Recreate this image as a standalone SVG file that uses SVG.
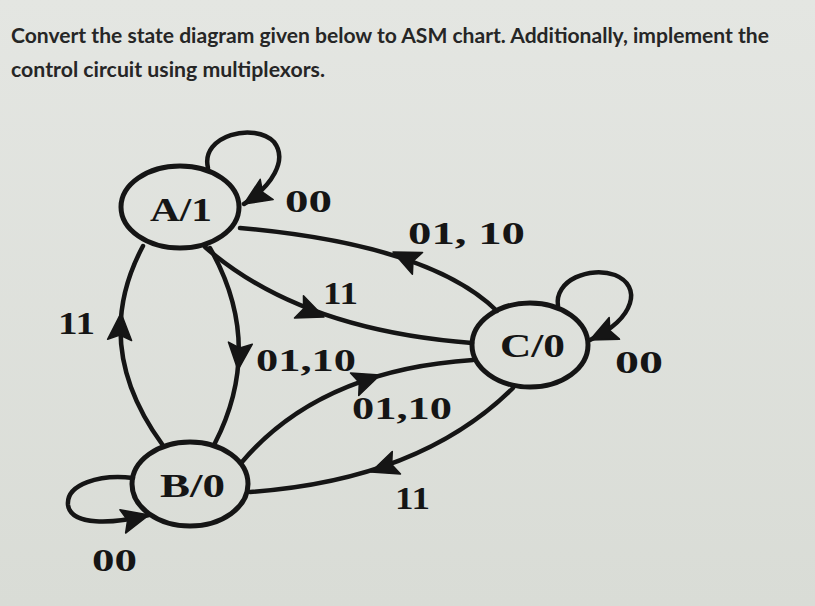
<svg xmlns="http://www.w3.org/2000/svg" xmlns:xlink="http://www.w3.org/1999/xlink" width="815" height="606" viewBox="0 0 815 606">
  <style>
    .title { font-family: Lato, "Liberation Sans", sans-serif; font-size: 20px; font-weight: bold; fill: #262626; }
    .node { fill: none; stroke: #151515; stroke-width: 5; }
    .nlabel { font-family: "Liberation Serif", "DejaVu Serif", serif; font-size: 33px; font-weight: bold; fill: #151515; }
    .elabel { font-family: "Liberation Serif", "DejaVu Serif", serif; font-size: 31px; font-weight: bold; fill: #151515; }
    .edge { fill: none; stroke: #151515; stroke-width: 4.5; stroke-linecap: round; }
    .ah { fill: #151515; stroke: #151515; stroke-width: 1.5; stroke-linejoin: round; }
  </style>
  <defs>
    <linearGradient id="bg" x1="0" y1="0" x2="0" y2="1">
      <stop offset="0" stop-color="#e4e6e2"/>
      <stop offset="1" stop-color="#d9dcd6"/>
    </linearGradient>
    <path id="ah" class="ah" d="M0,0 L-27,-12 L-22,0 L-27,12 Z"/>
    <marker id="arrow" markerUnits="userSpaceOnUse" markerWidth="32" markerHeight="30" refX="28" refY="14" orient="auto" viewBox="0 0 32 28">
      <path class="ah" d="M28,14 L1,2 L6,14 L1,26 Z"/>
    </marker>
  </defs>
  <rect x="0" y="0" width="815" height="606" fill="url(#bg)"/>

  <text class="title" x="11" y="43" textLength="758" lengthAdjust="spacingAndGlyphs">Convert the state diagram given below to ASM chart. Additionally, implement the</text>
  <text class="title" x="11" y="77" textLength="314" lengthAdjust="spacingAndGlyphs">control circuit using multiplexors.</text>

  <g id="connectors">
    <!-- A self loop 00 -->
    <path class="edge" d="M208,168 C200,135 255,122 274,142 C288,160 272,186 244,204" marker-end="url(#arrow)"/>
    <!-- C -> A 01,10 -->
    <path class="edge" d="M497,311 Q430,245 240,228"/>
    <use xlink:href="#ah" href="#ah" transform="translate(393,252) rotate(205)"/>
    <!-- A -> C 11 -->
    <path class="edge" d="M205,247 Q300,330 472,343"/>
    <use xlink:href="#ah" href="#ah" transform="translate(324,317) rotate(22)"/>
    <!-- A -> B 01,10 -->
    <path class="edge" d="M210,248 Q265,345 215,443"/>
    <use xlink:href="#ah" href="#ah" transform="translate(238,370) rotate(95)"/>
    <!-- B -> A 11 -->
    <path class="edge" d="M162,444 Q90,345 143,246"/>
    <use xlink:href="#ah" href="#ah" transform="translate(121,313) rotate(-87)"/>
    <!-- B -> C 01,10 -->
    <path class="edge" d="M242,462 Q320,370 473,360"/>
    <use xlink:href="#ah" href="#ah" transform="translate(380,375) rotate(-20)"/>
    <!-- C -> B 11 -->
    <path class="edge" d="M513,388 Q420,480 250,492"/>
    <use xlink:href="#ah" href="#ah" transform="translate(371,472) rotate(160)"/>
    <!-- C self loop 00 -->
    <path class="edge" d="M558,306 C554,280 590,266 615,275 C642,286 636,318 590,340" marker-end="url(#arrow)"/>
    <!-- B self loop 00 -->
    <path class="edge" d="M133,478 C100,474 66,484 68,505 C71,526 112,524 149,515" marker-end="url(#arrow)"/>

    <text class="elabel" x="285" y="212" textLength="47" lengthAdjust="spacingAndGlyphs">00</text>
    <text class="elabel" x="408" y="244" textLength="117" lengthAdjust="spacingAndGlyphs">01, 10</text>
    <text class="elabel" x="323" y="304" textLength="35" lengthAdjust="spacingAndGlyphs">11</text>
    <text class="elabel" x="256" y="371" textLength="100" lengthAdjust="spacingAndGlyphs">01,10</text>
    <text class="elabel" x="58" y="334" textLength="37" lengthAdjust="spacingAndGlyphs">11</text>
    <text class="elabel" x="352" y="419" textLength="100" lengthAdjust="spacingAndGlyphs">01,10</text>
    <text class="elabel" x="395" y="509" textLength="35" lengthAdjust="spacingAndGlyphs">11</text>
    <text class="elabel" x="615" y="373" textLength="48" lengthAdjust="spacingAndGlyphs">00</text>
    <text class="elabel" x="92" y="571" textLength="45" lengthAdjust="spacingAndGlyphs">00</text>
  </g>

  <g id="node-A">
    <ellipse class="node" cx="180" cy="207" rx="59" ry="41"/>
    <text class="nlabel" x="150" y="221" textLength="62" lengthAdjust="spacingAndGlyphs">A/1</text>
  </g>
  <g id="node-B">
    <ellipse class="node" cx="190" cy="484" rx="58" ry="42"/>
    <text class="nlabel" x="160" y="497" textLength="65" lengthAdjust="spacingAndGlyphs">B/0</text>
  </g>
  <g id="node-C">
    <ellipse class="node" cx="530" cy="345" rx="58" ry="42"/>
    <text class="nlabel" x="500" y="357" textLength="65" lengthAdjust="spacingAndGlyphs">C/0</text>
  </g>
</svg>
